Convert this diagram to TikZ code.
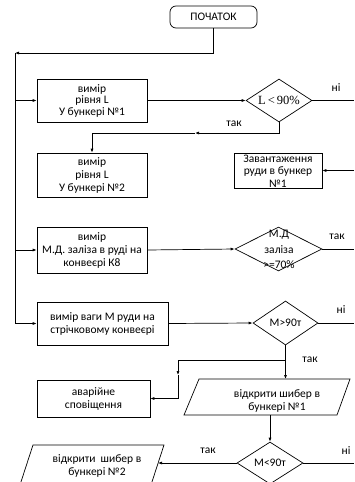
\documentclass[tikz,border=0pt]{standalone}
\usepackage{fontspec}
\setmainfont{Carlito}
\newfontfamily\serifx{Liberation Serif}
\usetikzlibrary{shapes.geometric,arrows.meta}
\begin{document}
\begin{tikzpicture}[x=1pt,y=-1pt,
  every node/.style={font=\fontsize{11.5}{13}\selectfont},
  ln/.style={line width=0.7pt},
  arr/.style={ln,-{Latex[length=4pt,width=3pt]}},
  box/.style={draw,ln,align=center,inner sep=0pt},
  dia/.style={draw,ln,diamond,inner sep=0pt},
  lbl/.style={inner sep=0pt}]
\useasboundingbox (0,0) rectangle (354,482);
% start
\node[box,rounded corners=6pt,minimum width=87pt,minimum height=22pt] (st) at (213.5,17) {ПОЧАТОК};
% boxes
\node[box,minimum width=110pt,minimum height=43pt,font=\fontsize{11.5}{11.5}\selectfont] (b1) at (92,100.5) {вимір\\рівня L\\У бункері №1};
\node[box,minimum width=110pt,minimum height=44pt] (b2) at (92,175) {вимір\\рівня L\\У бункері №2};
\node[box,minimum width=88pt,minimum height=35pt] (zv) at (278,170.5) {};
\node[lbl,align=center,font=\fontsize{11.5}{12.5}\selectfont] (zvt) at (278,171) {Завантаження\\руди в бункер\\№1};
\node[box,minimum width=110pt,minimum height=46pt] (b3) at (92,250) {вимір\\М.Д. заліза в руді на\\конвеєрі К8};
\node[box,minimum width=131pt,minimum height=43pt] (b4) at (102.5,323.5) {вимір ваги М руди на\\стрічковому конвеєрі};
\node[box,minimum width=113pt,minimum height=37pt] (b5) at (93.5,398.5) {аварійне\\сповіщення};
% diamonds
\node[dia,minimum width=66pt,minimum height=43pt] (d1) at (279,100.5) {};
\node[lbl,font=\serifx\fontsize{12.5}{13}\selectfont] at (d1) {L\,<\,90\%};
\node[dia,minimum width=87pt,minimum height=44pt] (d2) at (278.5,249) {};
\node[lbl,align=center,font=\fontsize{11.5}{15.5}\selectfont] at (279,249.5) {М.Д\\заліза\\>=70\%};
\node[dia,minimum width=65pt,minimum height=44pt] (d3) at (285.5,323) {};
\node[lbl] at (d3) {M>90т};
\node[dia,minimum width=66pt,minimum height=42pt] (d4) at (270,463) {};
\node[lbl] at (d4) {M<90т};
% parallelograms
\draw[ln] (199,379) -- (350,379) -- (337,415) -- (184,415) -- cycle;
\node[lbl,align=center] (p1) at (277,401) {відкрити шибер в\\бункері №1};
\coordinate (p1top) at (268,379);
\coordinate (p1bot) at (270,415);
\draw[ln] (33,445) -- (164,445) -- (149,491) -- (18,491) -- cycle;
\node[lbl,align=center] (p2) at (97,466) {відкрити\ \ шибер в\\бункері №2};
\coordinate (p2r) at (158,463);
% connectors
\coordinate (c0) at (15,53);
\draw[arr] (st.south) |- (c0);
\draw[ln] (c0) -- (15,323.5);
\draw[arr] (b1.west -| c0) -- (b1.west);
\draw[arr] (b3.west -| c0) -- (b3.west);
\draw[arr] (b4.west -| c0) -- (b4.west);
\draw[arr] (b1.east) -- (d1.west);
\draw[arr] (b3.east) -- (d2.west);
\draw[arr] (b4.east) -- (d3.west);
\coordinate (mB) at (195,133);
\draw[arr] (d1.south) |- (mB);
\draw[arr] (mB) -| (b2.north);
\coordinate (e1) at (354,100.5);
\draw[ln] (d1.east) -- (e1);
\coordinate (e2) at (354,249);
\draw[ln] (d2.east) -- (e2);
\coordinate (e3) at (354,323);
\draw[ln] (d3.east) -- (e3);
\coordinate (e4) at (354,463);
\draw[ln] (d4.east) -- (e4);
\coordinate (ez) at (354,170.5);
\draw[arr] (ez) -- (zv.east);
\coordinate (j1) at (285.5,360);
\coordinate (mA) at (178,375);
\draw[ln] (d3.south) -- (j1);
\draw[arr] (j1) -| (mA);
\draw[arr] (mA) |- (b5.east);
\draw[arr] (j1) -- (j1 |- p1top);
\draw[arr] (p1bot) -- (d4.north);
\draw[arr] (d4.west) -- (p2r);
% labels
\node[lbl] at (336,88) {ні};
\node[lbl] at (234,124) {так};
\node[lbl] at (337,237) {так};
\node[lbl] at (341,310) {ні};
\node[lbl] at (310,360) {так};
\node[lbl] at (208,451) {так};
\node[lbl] at (346,451) {ні};
\end{tikzpicture}
\end{document}
